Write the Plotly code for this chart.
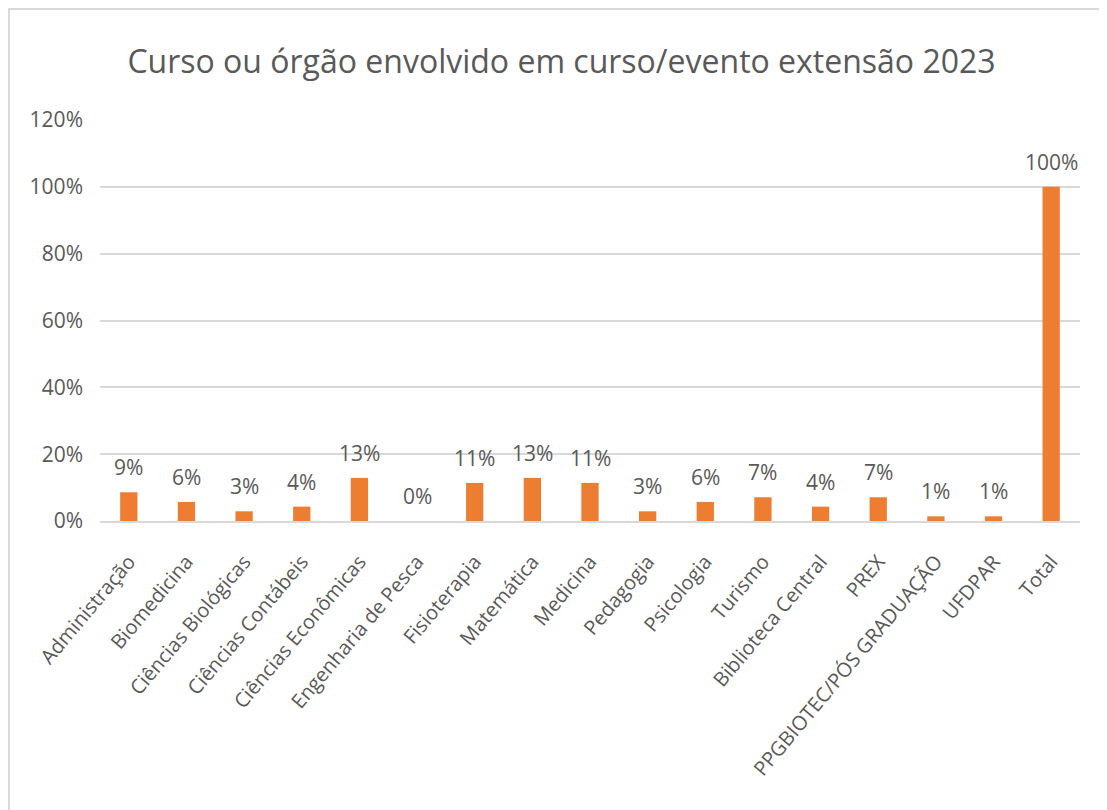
import plotly.graph_objects as go

cursos = ["Administração", "Biomedicina", "Ciências Biológicas", "Ciências Contábeis",
          "Ciências Econômicas", "Engenharia de Pesca", "Fisioterapia", "Matemática",
          "Medicina", "Pedagogia", "Psicologia", "Turismo", "Biblioteca Central",
          "PREX", "PPGBIOTEC/PÓS GRADUAÇÃO", "UFDPAR", "Total"]
percentual = [0.086, 0.057, 0.029, 0.043, 0.129, 0.0, 0.114, 0.129, 0.114,
              0.029, 0.057, 0.071, 0.043, 0.071, 0.014, 0.014, 1.0]
y_ticks = [0, 0.2, 0.4, 0.6, 0.8, 1.0, 1.2]

cinza = "#595959"
fonte = "Open Sans"

fig = go.Figure(go.Bar(
    x=cursos, y=percentual,
    marker_color="#ED7D31",
    marker_line_width=0,
))

# rótulos de dados acima das barras
for c, v in zip(cursos, percentual):
    fig.add_annotation(x=c, y=v, text=f"{v:.0%}", showarrow=False,
                       yanchor="bottom", yshift=9,
                       font=dict(size=21, color=cinza, family=fonte))

fig.update_layout(
    width=1107, height=810,
    margin=dict(l=92, r=35, t=112, b=297),
    paper_bgcolor="white", plot_bgcolor="white",
    title=dict(text="Curso ou órgão envolvido em curso/evento extensão 2023",
               x=0.5, xanchor="center", y=0.933, yanchor="middle",
               font=dict(size=32, color=cinza, family=fonte)),
    bargap=0.70,
    showlegend=False,
    font=dict(family=fonte, color=cinza),
)
fig.update_yaxes(range=[0, 1.2], tickvals=y_ticks, tickformat=".0%",
                 gridcolor="#d9d9d9", gridwidth=2, zeroline=False,
                 tickfont=dict(size=21, color=cinza), ticks="",
                 ticklabelstandoff=16)
fig.update_xaxes(tickangle=-50, tickfont=dict(size=20, color=cinza),
                 showline=True, linecolor="#d9d9d9", linewidth=2,
                 ticks="", showgrid=False, ticklabelstandoff=19)

# moldura cinza do gráfico
fig.add_shape(type="rect", xref="paper", yref="paper",
              x0=-0.0929, x1=1.2, y0=-0.8, y1=1.2768,
              line=dict(color="#d9d9d9", width=2), layer="below")

fig.write_html("out.html")
